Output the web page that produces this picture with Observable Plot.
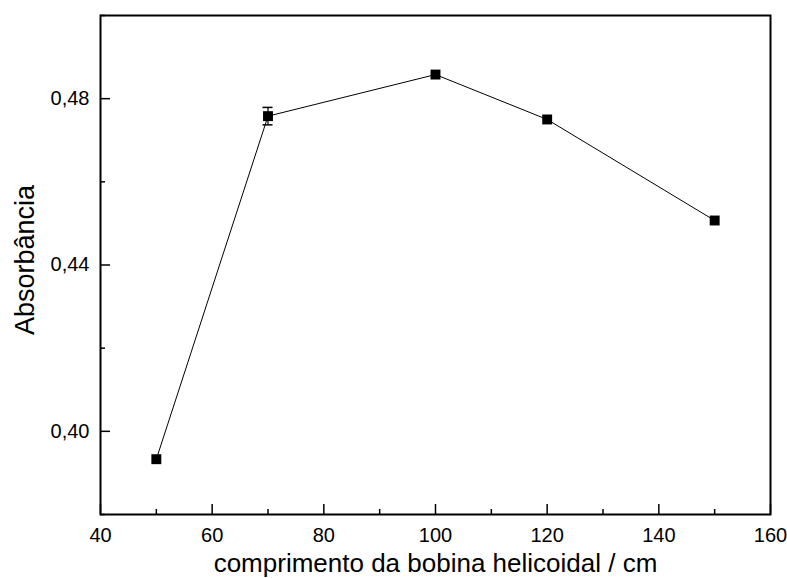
<!DOCTYPE html>
<html>
<head>
<meta charset="utf-8">
<script src="https://cdn.jsdelivr.net/npm/d3@7"></script>
<script src="https://cdn.jsdelivr.net/npm/@observablehq/plot@0.6"></script>
<style>
  html, body { margin: 0; padding: 0; background: #fff; }
  svg { font-family: "Liberation Sans", Arial, sans-serif; }
</style>
</head>
<body>
<div id="chart"></div>
<script>
const lengths = [50, 70, 100, 120, 150];
const absorbance = [0.3933, 0.4758, 0.4858, 0.4750, 0.4507];
const errors = [0, 0.0021, 0, 0, 0];
const xMajorTicks = [40, 60, 80, 100, 120, 140, 160];
const xMinorTicks = [50, 70, 90, 110, 130, 150];
const yMajorTicks = [0.40, 0.44, 0.48];
const yMinorTicks = [0.38, 0.42, 0.46, 0.50];
const xTitle = "comprimento da bobina helicoidal / cm";
const yTitle = "Absorbância";

const data = lengths.map((x, i) => ({x, y: absorbance[i], e: errors[i]}));
const errData = data.filter(d => d.e > 0);
const caps = errData.flatMap(d => [{x: d.x, y: d.y - d.e}, {x: d.x, y: d.y + d.e}]);
const fmt = d => d.toFixed(2).replace(".", ",");

const W = 787, H = 578;
const mL = 100, mR = 17, mT = 15, mB = 64;
const innerH = H - mT - mB;
const innerW = W - mL - mR;

const chart = Plot.plot({
  width: W,
  height: H,
  marginLeft: mL,
  marginRight: mR,
  marginTop: mT,
  marginBottom: mB,
  style: {fontFamily: "'Liberation Sans', Arial, sans-serif", background: "#fff", color: "#000"},
  x: {type: "linear", domain: [40, 160]},
  y: {type: "linear", domain: [0.38, 0.50]},
  marks: [
    // bottom ticks (inward)
    Plot.tickX(xMajorTicks, {x: d => d, insetTop: innerH - 10, stroke: "#000", strokeWidth: 1.5}),
    Plot.tickX(xMinorTicks, {x: d => d, insetTop: innerH - 5, stroke: "#000", strokeWidth: 1.5}),
    // left ticks (inward)
    Plot.tickY(yMajorTicks, {y: d => d, insetRight: innerW - 10, stroke: "#000", strokeWidth: 1.5}),
    Plot.tickY(yMinorTicks, {y: d => d, insetRight: innerW - 5, stroke: "#000", strokeWidth: 1.5}),
    Plot.axisX(xMajorTicks, {tickSize: 0, tickPadding: 13, fontSize: 20, label: null}),
    Plot.axisY(yMajorTicks, {tickSize: 0, tickPadding: 11, fontSize: 20, tickFormat: fmt, label: null}),
    Plot.text([xTitle], {frameAnchor: "bottom", textAnchor: "middle", dy: 49, lineAnchor: "middle", fontSize: 26, text: d => d, fill: "#000"}),
    Plot.text([yTitle], {frameAnchor: "left", textAnchor: "middle", dx: -75, dy: -5, rotate: -90, fontSize: 27, text: d => d, fill: "#000"}),
    Plot.frame({stroke: "#000", strokeWidth: 2}),
    Plot.line(data, {x: "x", y: "y", stroke: "#000", strokeWidth: 1}),
    Plot.ruleX(errData, {x: "x", y1: d => d.y - d.e, y2: d => d.y + d.e, stroke: "#000", strokeWidth: 1.2}),
    Plot.ruleY(caps, {y: "y", x1: d => d.x - 0.9, x2: d => d.x + 0.9, stroke: "#000", strokeWidth: 1.5}),
    Plot.dot(data, {x: "x", y: "y", symbol: "square", r: 5.6, fill: "#000", stroke: null})
  ]
});
document.getElementById("chart").appendChild(chart);
</script>
</body>
</html>
